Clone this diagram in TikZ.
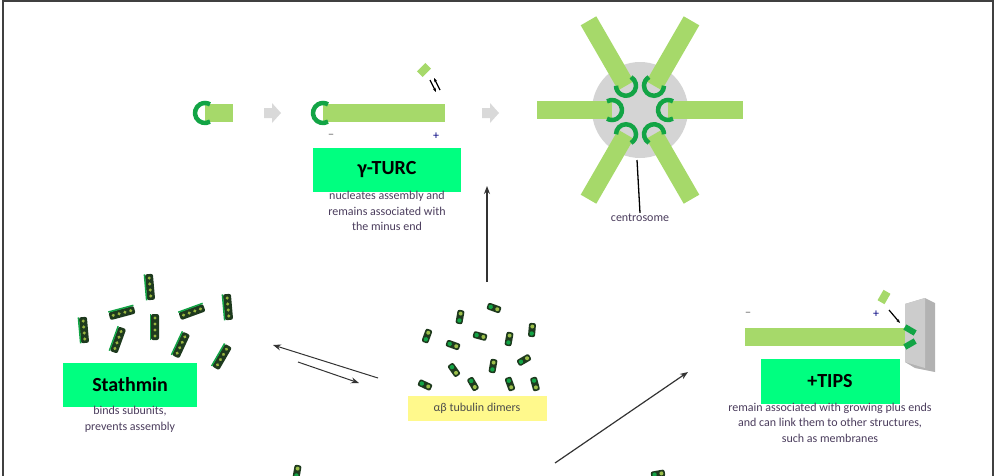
\documentclass[tikz,border=0pt]{standalone}
\usepackage{fontspec}
\setmainfont{Carlito}
\usetikzlibrary{arrows.meta}
\definecolor{mt}{HTML}{A6D96A}
\definecolor{capg}{HTML}{12A445}
\definecolor{boxg}{HTML}{00FF80}
\definecolor{txt}{HTML}{4A3C5C}
\definecolor{dk}{HTML}{1E3A1E}
\tikzset{
 mtbar/.style={draw=mt,line width=18pt,line cap=butt},
 capc/.style={draw=capg,line width=4.5pt},
 label box/.style={fill=boxg,minimum width=148pt,minimum height=44pt,font=\bfseries\fontsize{20}{22}\selectfont},
 desc/.style={font=\fontsize{12}{15.5}\selectfont,text=txt,align=center,inner sep=1pt},
 grayarr/.style={fill=black!15,draw=none},
 arr/.style={draw=black!80,line width=1.2pt,-{Stealth[length=8pt,width=6pt]}},
 dimer/.pic={\fill[dk,rounded corners=2pt] (-7,-3.5) rectangle (7,3.5);
   \fill[capg] (-3.5,0) circle (2.2); \fill[mt!70!olive] (3.5,0) circle (2);},
 stath/.pic={\fill[dk,rounded corners=2pt] (-13,-4) rectangle (13,4);
   \draw[capg,line width=1.5pt] (-13,-4.5) -- (13,-4.5);
   \foreach \i in {-9,-3,3,9}{\fill[mt!60!olive] (\i,0) circle (1.7);}}
}
\begin{document}
\begin{tikzpicture}[x=1pt,y=-1pt]
\useasboundingbox (0,0) rectangle (995,475);
\draw[black!75,line width=1.2pt] (3,480) -- (3,1) -- (993,1) -- (993,480);
% seed
\draw[mtbar] (205,113) -- (233,113);
\draw[capc] (205,113) ++(60:10) arc (60:300:10) coordinate (seedcap);
\fill[grayarr] (264,108) -- (272,108) -- (272,103) -- (281,113) -- (272,123) -- (272,118) -- (264,118) -- cycle;
% long MT
\draw[mtbar] (323,113) -- (445,113);
\draw[capc] (323,113) ++(60:10) arc (60:300:10);
\node[text=black!60,font=\large] (m1) at (331,136) {−};
\node[text=blue!50!black,font=\large] (p1) at (436,136) {+};
\fill[mt,rotate around={45:(424,70)}] (418,66) rectangle (430,74);
\draw[black,line width=1.2pt,-{Stealth[length=4pt]}] (430,80) -- (436,92);
\draw[black,line width=1.2pt,-{Stealth[length=4pt]}] (440,90) -- (434,78);
\fill[grayarr] (482,108) -- (490,108) -- (490,103) -- (499,113) -- (490,123) -- (490,118) -- (482,118) -- cycle;
% centrosome
\fill[black!17] (640,110) circle (48);
\foreach \a in {0,60,120,180,240,300}{
  \draw[mtbar] (640,110) ++(\a:28) -- ++(\a:75);
  \draw[capc] (640,110) ++(\a:28) ++(\a+60:10) arc (\a+60:\a+300:10);
}
\coordinate (cs) at (637,160);
\node[desc] (cen) at (640,218) {centrosome};
\draw[black,line width=1.3pt] (cs) -- (cen.north);
% gamma-TURC
\node[label box] (turc) at (387,170) {γ-TURC};
\node[desc,anchor=north] (turcd) at ([yshift=2pt]turc.south) {nucleates assembly and\\remains associated with\\the minus end};
\coordinate (va) at (487,282);
\draw[arr] (va) -- (487,186);
% Stathmin
\foreach \x/\y/\r in {150/287/95, 122/313/15, 84/330/95, 192/312/20, 228/307/95, 118/340/70, 155/327/90, 181/345/65, 222/357/60}{
  \pic[rotate=\r] at (\x,\y) {stath};}
\node[label box,minimum width=134pt] (st) at (130,385) {Stathmin};
\node[desc,anchor=north] (std) at ([yshift=2pt]st.south) {binds subunits,\\prevents assembly};
\coordinate (e1) at (378,378); \coordinate (e2) at (273,345);
\coordinate (e3) at (298,362); \coordinate (e4) at (359,383);
\draw[arr,line width=1pt] (e1) -- (e2);
\draw[arr,line width=1pt] (e3) -- (e4);
% tubulin
\foreach \x/\y/\r in {460/317/80, 494/308/-20, 427/336/70, 453/345/-20, 480/336/-15, 509/339/80, 532/330/85, 524/360/30, 425/385/-25, 454/370/-55, 493/366/80, 473/384/-60, 510/384/-70, 535/384/-75}{
  \pic[rotate=\r] at (\x,\y) {dimer};}
\node[fill=yellow!45,minimum width=139pt,minimum height=25pt,desc,text=black!70] (tub) at (477,408) {αβ tubulin dimers};
\draw[arr] (555,463) -- (688,372);
% +TIPS
\fill[black!30] (905,304) -- (925,298) -- (935,303) -- (935,372) -- (915,368) -- (905,362) -- cycle;
\fill[black!20] (905,304) -- (925,298) -- (925,368) -- (905,362) -- cycle;
\draw[mtbar] (745,337) -- (905,337);
\fill[capg,rotate around={-30:(910,330)}] (904,327) rectangle (916,333);
\fill[capg,rotate around={30:(910,344)}] (904,341) rectangle (916,347);
\node[text=black!60,font=\large] (m2) at (748,314) {−};
\node[text=blue!50!black,font=\large] (p2) at (876,314) {+};
\fill[mt,rotate around={60:(884,297)}] (878,293) rectangle (890,301);
\draw[black,line width=1.2pt,-{Stealth[length=4pt]}] (889,310) -- (900,323);
\node[label box,minimum width=139pt,minimum height=45pt] (tips) at (830,381) {+TIPS};
\node[desc,anchor=north] (tipsd) at ([yshift=2pt]tips.south) {remain associated with growing plus ends\\and can link them to other structures,\\such as membranes};
% partial items at bottom
\pic[rotate=80] at (297,472) {dimer};
\pic[rotate=10] at (658,474) {dimer};
\end{tikzpicture}
\end{document}
